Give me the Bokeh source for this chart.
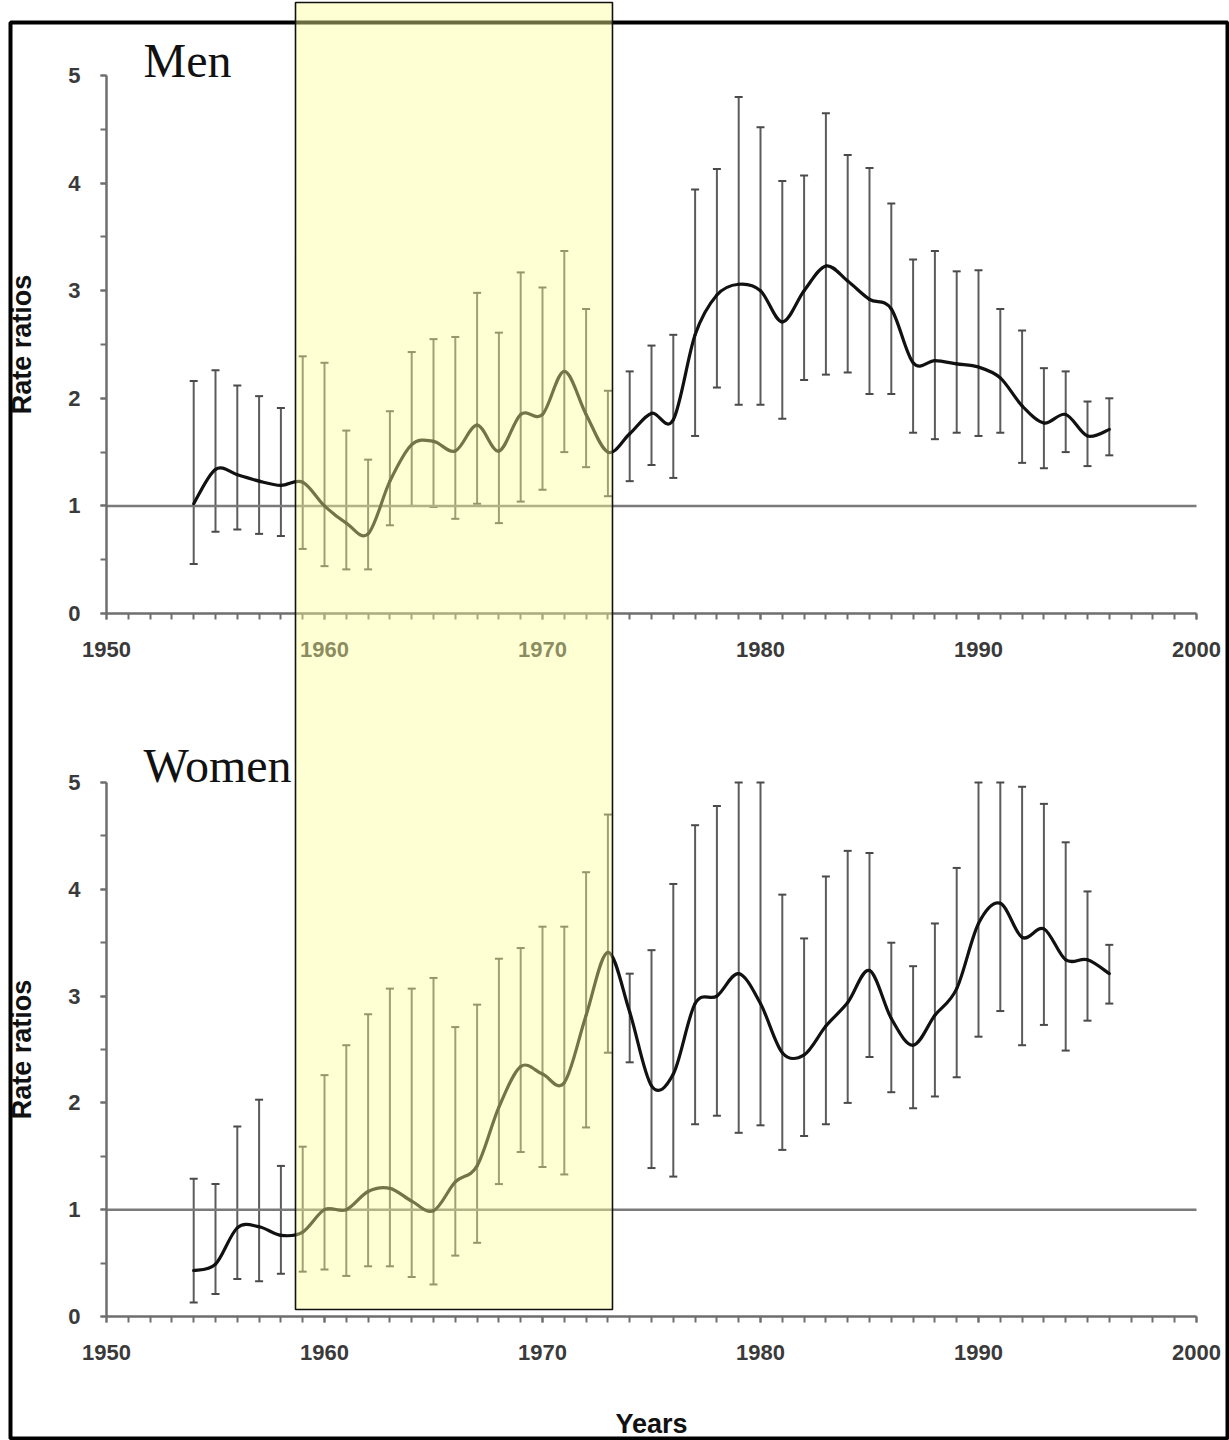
from bokeh.plotting import figure
from bokeh.models import (Range1d, Whisker, BoxAnnotation, Label,
                          SingleIntervalTicker, LinearAxis, ColumnDataSource, TeeHead)
from bokeh.embed import file_html
from bokeh.resources import INLINE

years = list(range(1954, 1997))

men_rr = [1.02, 1.34, 1.29, 1.23, 1.19, 1.22, 1.00, 0.84, 0.74, 1.23, 1.57, 1.60, 1.51, 1.75, 1.51,
          1.85, 1.85, 2.25, 1.85, 1.50, 1.67, 1.86, 1.80, 2.59, 2.96, 3.06, 3.00, 2.71, 3.00, 3.23,
          3.09, 2.92, 2.83, 2.33, 2.35, 2.32, 2.29, 2.19, 1.93, 1.77, 1.85, 1.65, 1.71]
men_hi = [2.16, 2.26, 2.12, 2.02, 1.91, 2.39, 2.33, 1.70, 1.43, 1.88, 2.43, 2.55, 2.57, 2.98, 2.61,
          3.17, 3.03, 3.37, 2.83, 2.07, 2.25, 2.49, 2.59, 3.94, 4.13, 4.80, 4.52, 4.02, 4.07, 4.65,
          4.26, 4.14, 3.81, 3.29, 3.37, 3.18, 3.19, 2.83, 2.63, 2.28, 2.25, 1.97, 2.00]
men_lo = [0.46, 0.76, 0.78, 0.74, 0.72, 0.60, 0.44, 0.41, 0.41, 0.82, 1.00, 0.99, 0.88, 1.02, 0.84,
          1.04, 1.15, 1.50, 1.36, 1.09, 1.23, 1.38, 1.26, 1.65, 2.10, 1.94, 1.94, 1.81, 2.17, 2.22,
          2.24, 2.04, 2.04, 1.68, 1.62, 1.68, 1.65, 1.68, 1.40, 1.35, 1.50, 1.37, 1.47]

women_rr = [0.43, 0.49, 0.83, 0.84, 0.76, 0.79, 1.00, 1.00, 1.17, 1.20, 1.08, 0.99, 1.26, 1.41, 1.96,
            2.34, 2.27, 2.19, 2.82, 3.41, 2.85, 2.16, 2.27, 2.93, 3.00, 3.21, 2.93, 2.47, 2.45, 2.72,
            2.94, 3.24, 2.79, 2.54, 2.82, 3.07, 3.68, 3.87, 3.55, 3.63, 3.34, 3.34, 3.21]
women_hi = [1.29, 1.24, 1.78, 2.03, 1.41, 1.59, 2.26, 2.54, 2.83, 3.07, 3.07, 3.17, 2.71, 2.92, 3.35,
            3.45, 3.65, 3.65, 4.16, 4.70, 3.21, 3.43, 4.05, 4.60, 4.78, 5.00, 5.00, 3.95, 3.54, 4.12,
            4.36, 4.34, 3.50, 3.28, 3.68, 4.20, 5.00, 5.00, 4.96, 4.80, 4.44, 3.98, 3.48]
women_lo = [0.13, 0.21, 0.35, 0.33, 0.40, 0.42, 0.44, 0.38, 0.47, 0.47, 0.37, 0.30, 0.57, 0.69, 1.24,
            1.54, 1.40, 1.33, 1.77, 2.47, 2.38, 1.39, 1.31, 1.80, 1.88, 1.72, 1.79, 1.56, 1.69, 1.80,
            2.00, 2.43, 2.10, 1.95, 2.06, 2.24, 2.62, 2.86, 2.54, 2.73, 2.49, 2.77, 2.93]

x_bounds = (1950, 2000)
y_bounds = (0, 5)
ref_level = 1.0
highlight_years = (1958.67, 1973.21)
panel_titles = ["Men", "Women"]

SANS = "Liberation Sans"
SERIF = "Liberation Serif"

W, H = 1229, 1440
# pixel geometry of the two panels (frame covers whole canvas)
X0_PX, X1_PX = 106, 1196
MEN_Y0_PX, MEN_Y5_PX = 613, 75
WOM_Y0_PX, WOM_Y5_PX = 1316, 782

xs = (X1_PX - X0_PX) / (x_bounds[1] - x_bounds[0])
x_start = x_bounds[0] - X0_PX / xs
x_end = x_bounds[1] + (W - X1_PX) / xs

ms = (MEN_Y0_PX - MEN_Y5_PX) / 5.0
men_start = -(H - MEN_Y0_PX) / ms
men_end = 5 + MEN_Y5_PX / ms
ws = (WOM_Y0_PX - WOM_Y5_PX) / 5.0
wom_start = -(H - WOM_Y0_PX) / ws
wom_end = 5 + WOM_Y5_PX / ws


def px_x(px):
    return x_start + px / xs


def px_men_y(py):
    return men_end - py / ms


def px_wom_y(py):
    return wom_end - py / ws


def smooth_segments(xv, yv):
    """Catmull-Rom -> cubic Bezier control points for each segment."""
    n = len(xv)
    d = dict(x0=[], y0=[], x1=[], y1=[], cx0=[], cy0=[], cx1=[], cy1=[])
    for i in range(n - 1):
        xm = xv[i - 1] if i > 0 else xv[i]
        ym = yv[i - 1] if i > 0 else yv[i]
        xp2 = xv[i + 2] if i + 2 < n else xv[i + 1]
        yp2 = yv[i + 2] if i + 2 < n else yv[i + 1]
        d["x0"].append(xv[i]); d["y0"].append(yv[i])
        d["x1"].append(xv[i + 1]); d["y1"].append(yv[i + 1])
        d["cx0"].append(xv[i] + (xv[i + 1] - xm) / 6.0)
        d["cy0"].append(yv[i] + (yv[i + 1] - ym) / 6.0)
        d["cx1"].append(xv[i + 1] - (xp2 - xv[i]) / 6.0)
        d["cy1"].append(yv[i + 1] - (yp2 - yv[i]) / 6.0)
    return d


p = figure(width=W, height=H,
           x_range=Range1d(x_start, x_end), y_range=Range1d(men_start, men_end),
           x_axis_type=None, y_axis_type=None,
           output_backend="svg", toolbar_location=None,
           min_border=0, min_border_left=0, min_border_right=0,
           min_border_top=0, min_border_bottom=0)
p.extra_y_ranges = {"women": Range1d(wom_start, wom_end)}
p.outline_line_color = None
p.background_fill_color = "white"
p.border_fill_color = "white"


def style_axis(ax):
    ax.axis_line_color = "#6e6e6e"
    ax.axis_line_width = 2.5
    ax.major_tick_line_color = "#6e6e6e"
    ax.minor_tick_line_color = "#6e6e6e"
    ax.major_tick_line_width = 2
    ax.minor_tick_line_width = 2
    ax.major_tick_in = 0
    ax.major_tick_out = 6
    ax.minor_tick_in = 0
    ax.minor_tick_out = 6
    ax.major_label_text_font = SANS
    ax.major_label_text_font_style = "bold"
    ax.major_label_text_font_size = "22px"
    ax.major_label_text_color = "#3a3a3a"
    ax.axis_label_text_font = SANS
    ax.axis_label_text_font_style = "bold"
    ax.axis_label_text_color = "#111111"


def add_panel(rr, hi, lo, title, yname, title_y, xlabel):
    kw = {} if yname is None else {"y_range_name": yname}
    xaxis = LinearAxis(ticker=SingleIntervalTicker(interval=10, num_minor_ticks=10),
                       bounds=x_bounds, fixed_location=y_bounds[0], **kw)
    yaxis = LinearAxis(ticker=SingleIntervalTicker(interval=1, num_minor_ticks=2),
                       bounds=y_bounds, fixed_location=x_bounds[0], **kw)
    style_axis(xaxis)
    style_axis(yaxis)
    xaxis.major_label_standoff = 22
    yaxis.major_label_standoff = 20
    yaxis.axis_label = "Rate ratios"
    yaxis.axis_label_text_font_size = "27px"
    yaxis.axis_label_standoff = 28
    if xlabel:
        xaxis.axis_label = xlabel
        xaxis.axis_label_text_font_size = "27px"
        xaxis.axis_label_standoff = 46
    p.add_layout(xaxis, "below")
    p.add_layout(yaxis, "left")

    # reference line at 1
    p.segment(x0=[x_bounds[0]], y0=[ref_level], x1=[x_bounds[1]], y1=[ref_level],
              line_color="#7a7a7a", line_width=2.5, **kw)

    # confidence intervals
    src = ColumnDataSource(dict(x=years, hi=hi, lo=lo))
    wh = Whisker(base="x", upper="hi", lower="lo", source=src,
                 line_color="#5c5c5c", line_width=2,
                 upper_head=TeeHead(size=8, line_color="#4a4a4a", line_width=2),
                 lower_head=TeeHead(size=8, line_color="#4a4a4a", line_width=2), **kw)
    p.add_layout(wh)

    # smoothed rate-ratio line
    seg = ColumnDataSource(smooth_segments(years, rr))
    p.bezier(x0="x0", y0="y0", x1="x1", y1="y1", cx0="cx0", cy0="cy0", cx1="cx1", cy1="cy1",
             source=seg, line_color="#111111", line_width=3.2, line_cap="round", **kw)

    p.add_layout(Label(x=px_x(143), y=title_y, text=title, text_font=SERIF,
                       text_font_size="48px", text_color="#111111",
                       text_baseline="alphabetic", **kw))


add_panel(men_rr, men_hi, men_lo, panel_titles[0], None, px_men_y(60), None)
add_panel(women_rr, women_hi, women_lo, panel_titles[1], "women", px_wom_y(765), "Years")

# outer frame of the figure
p.add_layout(BoxAnnotation(left=px_x(10), right=px_x(1227), top=px_men_y(22), bottom=px_men_y(1438),
                           fill_alpha=0, line_color="black", line_alpha=1.0, line_width=4))
# highlighted period across both panels
p.add_layout(BoxAnnotation(left=highlight_years[0], right=highlight_years[1],
                           top=px_men_y(2), bottom=px_men_y(1309),
                           fill_color="#ffff99", fill_alpha=0.42,
                           line_color="#111111", line_alpha=1.0, line_width=1.6))

open("out.html", "w").write(file_html(p, INLINE))
